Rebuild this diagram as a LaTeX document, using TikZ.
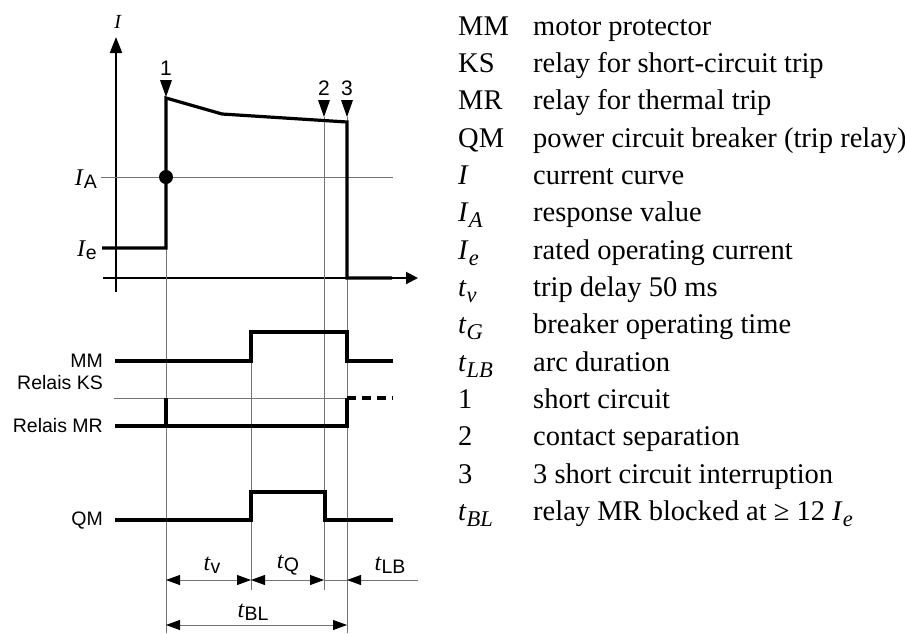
\documentclass[tikz,border=0pt]{standalone}
\usepackage{fontspec}
\setmainfont{Liberation Serif}
\setsansfont{Liberation Sans}
\usetikzlibrary{arrows.meta}

% italic serif letter with lowered sans index (left diagram)
\newcommand{\lowsf}[2]{{\fontsize{24}{24}\selectfont\textit{#1}}\raisebox{-3pt}{\fontsize{19.5}{20}\selectfont\sffamily #2}}
% italic letter with lowered italic index (key)
\newcommand{\lowit}[2]{\textit{#1}\raisebox{-6pt}{\fontsize{22.5}{22}\selectfont\textit{#2}}}

\tikzset{
  sig/.style={line width=3.2pt},
  guide/.style={line width=0.8pt, black!55},
  dimline/.style={guide, {Triangle[length=14pt,width=10pt,black]}-{Triangle[length=14pt,width=10pt,black]}},
  sflabel/.style={inner sep=0pt, font=\fontsize{19.5}{22}\selectfont\sffamily},
  numlabel/.style={inner sep=0pt, font=\fontsize{21}{22}\selectfont\sffamily},
  serlabel/.style={inner sep=0pt, font=\fontsize{20}{22}\selectfont},
  keyname/.style={anchor=base west, inner sep=0pt, font=\fontsize{28.5}{30}\selectfont},
}

\begin{document}
\begin{tikzpicture}[x=1pt, y=-1pt]
\useasboundingbox (0,0) rectangle (905,633);

% axes
\draw[line width=2pt, -{Triangle[length=16pt,width=12pt]}] (116,292) -- (116,37);
\draw[line width=2pt, -{Triangle[length=12pt,width=12pt]}] (103,278) -- (418,278);
\node[serlabel] (lI) at (118,22) {\textit{I}};

% response value
\draw[guide] (101,177) -- (393,177);
\node[serlabel, anchor=east] (lIA) at (97,179) {\lowsf{I}{A}};
\node[serlabel, anchor=east] (lIe) at (97,250) {\lowsf{I}{e}};

% vertical lines
\draw[guide] (166,248) -- (166,633);
\draw[guide] (251,332) -- (251,590);
\draw[guide] (324,117) -- (324,590);
\draw[guide] (347,117) -- (347,633);

% current curve
\draw[sig] (102,248) -- (166,248) -- (166,98) -- (222,114) -- (347,122) -- (347,278) -- (392,278);
\fill (166,177) circle (7);

% event marks
\foreach \x/\ytip/\num in {166/97/1, 324/117/2, 347/117/3} {
    \fill (\x-6,\ytip-17) -- (\x+6,\ytip-17) -- (\x,\ytip) -- cycle;
    \node[numlabel, anchor=south] (m\num) at (\x,\ytip-21) {\num};
}

% signal lines
\draw[sig] (115,361) -- (251,361) -- (251,332) -- (347,332) -- (347,361) -- (393,361);
\draw[guide] (114,398) -- (347,398);
\draw[sig, dash pattern=on 9pt off 6pt] (347,398) -- (393,398);
\draw[sig] (115,426) -- (347,426) -- (347,398);
\draw[sig] (166,426) -- (166,398);
\draw[sig] (115,520) -- (251,520) -- (251,492) -- (325,492) -- (325,520) -- (393,520);

\node[sflabel, anchor=east] (lMM) at (103,361) {MM};
\node[sflabel, anchor=east] (lKS) at (103,383) {Relais KS};
\node[sflabel, anchor=east] (lMR) at (103,426) {Relais MR};
\node[sflabel, anchor=east] (lQM) at (103,521) {QM};

% time spans
\draw[dimline] (166,580) -- (251,580);
\draw[dimline] (251,580) -- (324,580);
\draw[guide] (324,580) -- (347,580);
\draw[guide, {Triangle[length=14pt,width=10pt,black]}-] (347,580) -- (418,580);
\draw[dimline] (166,625) -- (347,625);

\node[serlabel] (ltv) at (212,565) {\lowsf{t}{v}};
\node[serlabel] (ltQ) at (288,565) {\lowsf{t}{Q}};
\node[serlabel] (ltLB) at (390,565) {\lowsf{t}{LB}};
\node[serlabel] (ltBL) at (253,612) {\lowsf{t}{BL}};

% key
\foreach \name/\text [count=\i from 0] in {
    MM/motor protector,
    KS/relay for short-circuit trip,
    MR/relay for thermal trip,
    QM/power circuit breaker (trip relay),
    \textit{I}/current curve,
    \lowit{I}{A}/response value,
    \lowit{I}{e}/rated operating current,
    \lowit{t}{v}/trip delay 50 ms,
    \lowit{t}{G}/breaker operating time,
    \lowit{t}{LB}/arc duration,
    1/short circuit,
    2/contact separation,
    3/3 short circuit interruption,
    \lowit{t}{BL}/relay MR blocked at ≥ 12 \lowit{I}{e}} {
    \node[keyname] (k\i) at (458,35+37.35*\i) {\name};
    \node[keyname] (d\i) at (533,35+37.35*\i) {\text};
}

\end{tikzpicture}
\end{document}
